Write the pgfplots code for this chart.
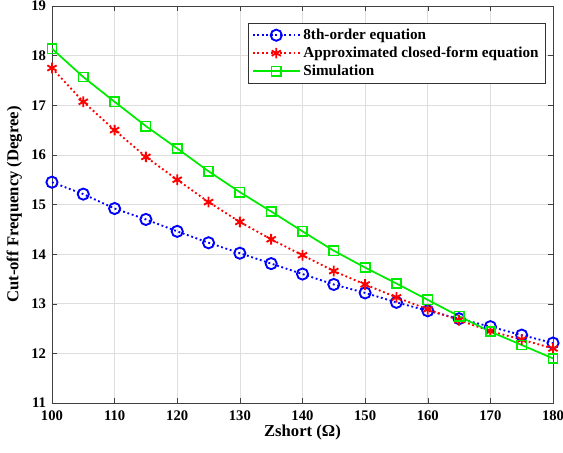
\documentclass[border=0pt]{standalone}
\usepackage{fontspec}
\setmainfont{Liberation Serif}
\usepackage{pgfplots}
\pgfplotsset{compat=1.18}
\definecolor{mgreen}{RGB}{0,235,0}
\begin{document}
\begin{tikzpicture}
\begin{axis}[width=376pt,height=298pt,scale only axis,
  xmin=100,xmax=180,ymin=11,ymax=19,
  xtick={100,110,...,180},ytick={11,12,...,19},
  xlabel={\bfseries Zshort (Ω)},
  ylabel={\bfseries Cut-off Frequency (Degree)},
  grid=major,grid style={black!13,line width=0.5pt},
  tick align=inside,major tick length=4pt,
  axis line style={black!75,line width=0.6pt},
  tick style={black!75},
  /pgf/number format/assume math mode=true,
  tick label style={font=\fontsize{11}{13}\selectfont\bfseries},
  xticklabel style={yshift=-4.5pt,inner ysep=1pt},
  yticklabel style={xshift=-1pt,inner ysep=1pt},
  label style={font=\fontsize{12.5}{15}\selectfont},
  xlabel style={yshift=1.5pt},ylabel style={yshift=0pt},
  legend style={at={(0.985,0.958)},anchor=north east,draw=black!80,
    font=\fontsize{11.4}{13.7}\selectfont\bfseries,row sep=0pt,
    inner xsep=3pt,inner ysep=2.5pt},
  legend cell align=left,
  legend image code/.code={
    \draw[mark repeat=2,mark phase=2] plot coordinates {(0cm,0cm)(0.62cm,0cm)(1.24cm,0cm)};},
  legend image post style={line width=1.4pt},
]
\addplot[blue,line width=1.4pt,dotted,mark=o,mark size=4.2pt,
  mark options={solid,line width=1.4pt}] coordinates {
(100,15.45)(105,15.21)(110,14.92)(115,14.70)(120,14.46)(125,14.23)(130,14.02)(135,13.81)(140,13.60)
(145,13.39)(150,13.22)(155,13.03)(160,12.86)(165,12.70)(170,12.54)(175,12.37)(180,12.21)};
\addlegendentry{8th-order equation}
\addplot[red,line width=1.4pt,dotted,mark=asterisk,mark size=4pt,
  mark options={solid,line width=1.4pt}] coordinates {
(100,17.75)(105,17.07)(110,16.50)(115,15.96)(120,15.50)(125,15.05)(130,14.65)(135,14.30)(140,13.98)
(145,13.66)(150,13.39)(155,13.13)(160,12.89)(165,12.67)(170,12.45)(175,12.28)(180,12.10)};
\addlegendentry{Approximated closed-form equation}
\addplot[mgreen,line width=1.3pt,mark=square,mark size=3.5pt,
  mark options={solid,line width=1.2pt}] coordinates {
(100,18.14)(105,17.57)(110,17.07)(115,16.58)(120,16.13)(125,15.67)(130,15.25)(135,14.86)(140,14.46)
(145,14.07)(150,13.73)(155,13.41)(160,13.08)(165,12.75)(170,12.44)(175,12.17)(180,11.90)};
\addlegendentry{Simulation}
\end{axis}
\pgfresetboundingbox
\path[use as bounding box] ([xshift=-39pt,yshift=-36.8pt]current axis.south west)
  rectangle ([xshift=7.5pt,yshift=4.5pt]current axis.north east);
\end{tikzpicture}
\end{document}
